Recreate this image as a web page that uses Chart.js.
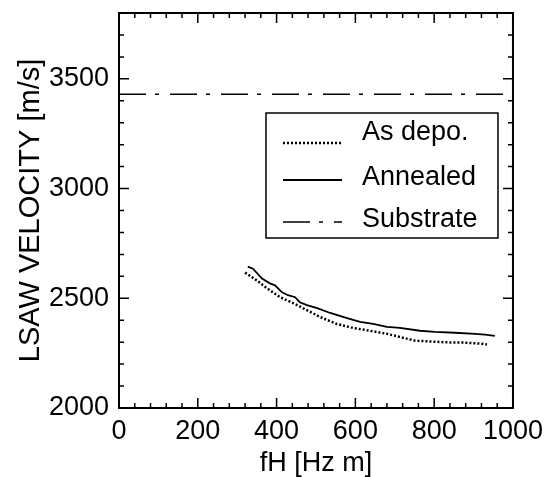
<!DOCTYPE html>
<html>
<head>
<meta charset="utf-8">
<script src="https://cdn.jsdelivr.net/npm/chart.js@4"></script>
<style>
  html, body { margin: 0; padding: 0; background: #fff; }
  #wrap { width: 550px; height: 477px; }
</style>
</head>
<body>
<div id="wrap"><canvas id="lsaw"></canvas></div>
<script>
// LSAW velocity vs. fH, film as deposited and after annealing
const depoFH = [320, 350, 376, 409, 442, 477, 510, 553, 594, 637, 680, 751, 802, 845, 878, 921, 934];
const depoV = [2617, 2581, 2545, 2505, 2478, 2446, 2415, 2383, 2365, 2352, 2338, 2307, 2302, 2298, 2298, 2293, 2289];

const annealFH = [327, 340, 363, 383, 396, 414, 429, 447, 459, 477, 503, 536, 579, 612, 645, 680, 713, 764, 802, 853, 904, 929, 954];
const annealV = [2644, 2635, 2590, 2568, 2559, 2527, 2514, 2505, 2482, 2469, 2455, 2433, 2410, 2392, 2383, 2370, 2365, 2352, 2347, 2343, 2338, 2334, 2329];

const substrateFH = [0, 1000];
const substrateV = [3430, 3430];

const seriesNames = ["As depo.", "Annealed", "Substrate"];
const xTicks = [0, 200, 400, 600, 800, 1000];
const yTicks = [2000, 2500, 3000, 3500];

const FONT = "Liberation Sans, Arial, Helvetica, sans-serif";
const FS = 27;

function pts(xs, ys) {
  return xs.map((x, i) => ({ x: x, y: ys[i] }));
}

// frame, inward tick marks and the boxed legend
const framePlugin = {
  id: "frame",
  afterDraw(chart) {
    const { ctx, chartArea: a, scales } = chart;
    const xs = scales.x, ys = scales.y;
    ctx.save();
    ctx.strokeStyle = "#000";
    ctx.lineWidth = 1.5;
    ctx.beginPath();
    for (let v = 0; v <= 1000; v += 40) {
      const px = xs.getPixelForValue(v);
      const len = v % 200 === 0 ? 10 : 5;
      ctx.moveTo(px, a.bottom); ctx.lineTo(px, a.bottom - len);
      ctx.moveTo(px, a.top); ctx.lineTo(px, a.top + len);
    }
    for (let v = 2000; v <= 3800; v += 100) {
      const py = ys.getPixelForValue(v);
      const len = v % 500 === 0 ? 10 : 5;
      ctx.moveTo(a.left, py); ctx.lineTo(a.left + len, py);
      ctx.moveTo(a.right, py); ctx.lineTo(a.right - len, py);
    }
    ctx.stroke();

    ctx.lineWidth = 2;
    ctx.strokeRect(a.left, a.top, a.right - a.left, a.bottom - a.top);

    // legend
    const bx = 266, by = 113, bw = 232, bh = 125;
    ctx.lineWidth = 1.5;
    ctx.strokeRect(bx, by, bw, bh);
    const rows = [140, 180, 222];
    ctx.font = FS + "px " + FONT;
    ctx.textBaseline = "middle";
    ctx.fillStyle = "#000";
    chart.data.datasets.forEach((ds, i) => {
      const y = rows[i];
      ctx.save();
      ctx.lineWidth = ds.borderWidth;
      ctx.setLineDash(ds.borderDash || []);
      ctx.beginPath();
      ctx.moveTo(283, y + (i === 0 ? 3 : 0));
      ctx.lineTo(342, y + (i === 0 ? 3 : 0));
      ctx.stroke();
      ctx.restore();
      ctx.fillText(seriesNames[i], 362, y - (i === 0 ? 7 : 2));
    });
    ctx.restore();
  }
};

new Chart(document.getElementById("lsaw"), {
  type: "scatter",
  data: {
    datasets: [
      {
        label: seriesNames[0],
        data: pts(depoFH, depoV),
        showLine: true,
        borderColor: "#000",
        borderWidth: 2.5,
        borderDash: [2, 2],
        pointRadius: 0,
        tension: 0
      },
      {
        label: seriesNames[1],
        data: pts(annealFH, annealV),
        showLine: true,
        borderColor: "#000",
        borderWidth: 1.8,
        pointRadius: 0,
        tension: 0
      },
      {
        label: seriesNames[2],
        data: pts(substrateFH, substrateV),
        showLine: true,
        borderColor: "#000",
        borderWidth: 1.5,
        borderDash: [27, 9, 4, 11],
        pointRadius: 0
      }
    ]
  },
  options: {
    responsive: true,
    maintainAspectRatio: false,
    animation: false,
    layout: { padding: { left: 0, right: 37, top: 13, bottom: 0 } },
    plugins: {
      legend: { display: false },
      tooltip: { enabled: false }
    },
    scales: {
      x: {
        type: "linear",
        min: 0,
        max: 1000,
        afterBuildTicks: (s) => { s.ticks = xTicks.map((v) => ({ value: v })); },
        afterFit: (s) => { s.height = 69; },
        grid: { display: false, drawTicks: false },
        border: { display: false },
        ticks: {
          color: "#000",
          padding: 7,
          font: { family: FONT, size: FS },
          callback: (v) => String(v)
        },
        title: {
          display: true,
          text: "fH [Hz m]",
          color: "#000",
          font: { family: FONT, size: FS, lineHeight: 1 },
          padding: { top: 0, bottom: 0 }
        }
      },
      y: {
        type: "linear",
        min: 2000,
        max: 3800,
        afterBuildTicks: (s) => { s.ticks = yTicks.map((v) => ({ value: v })); },
        afterFit: (s) => {
          s.width = 119;
          s.paddingTop = 0;
          s.paddingBottom = 0;
        },
        grid: { display: false, drawTicks: false },
        border: { display: false },
        ticks: {
          color: "#000",
          padding: 10,
          font: { family: FONT, size: FS },
          callback: (v) => String(v)
        },
        title: {
          display: true,
          text: "LSAW VELOCITY [m/s]",
          color: "#000",
          font: { family: FONT, size: 29, lineHeight: 1 },
          padding: { top: 16, bottom: 0 }
        }
      }
    }
  },
  plugins: [framePlugin]
});
</script>
</body>
</html>
